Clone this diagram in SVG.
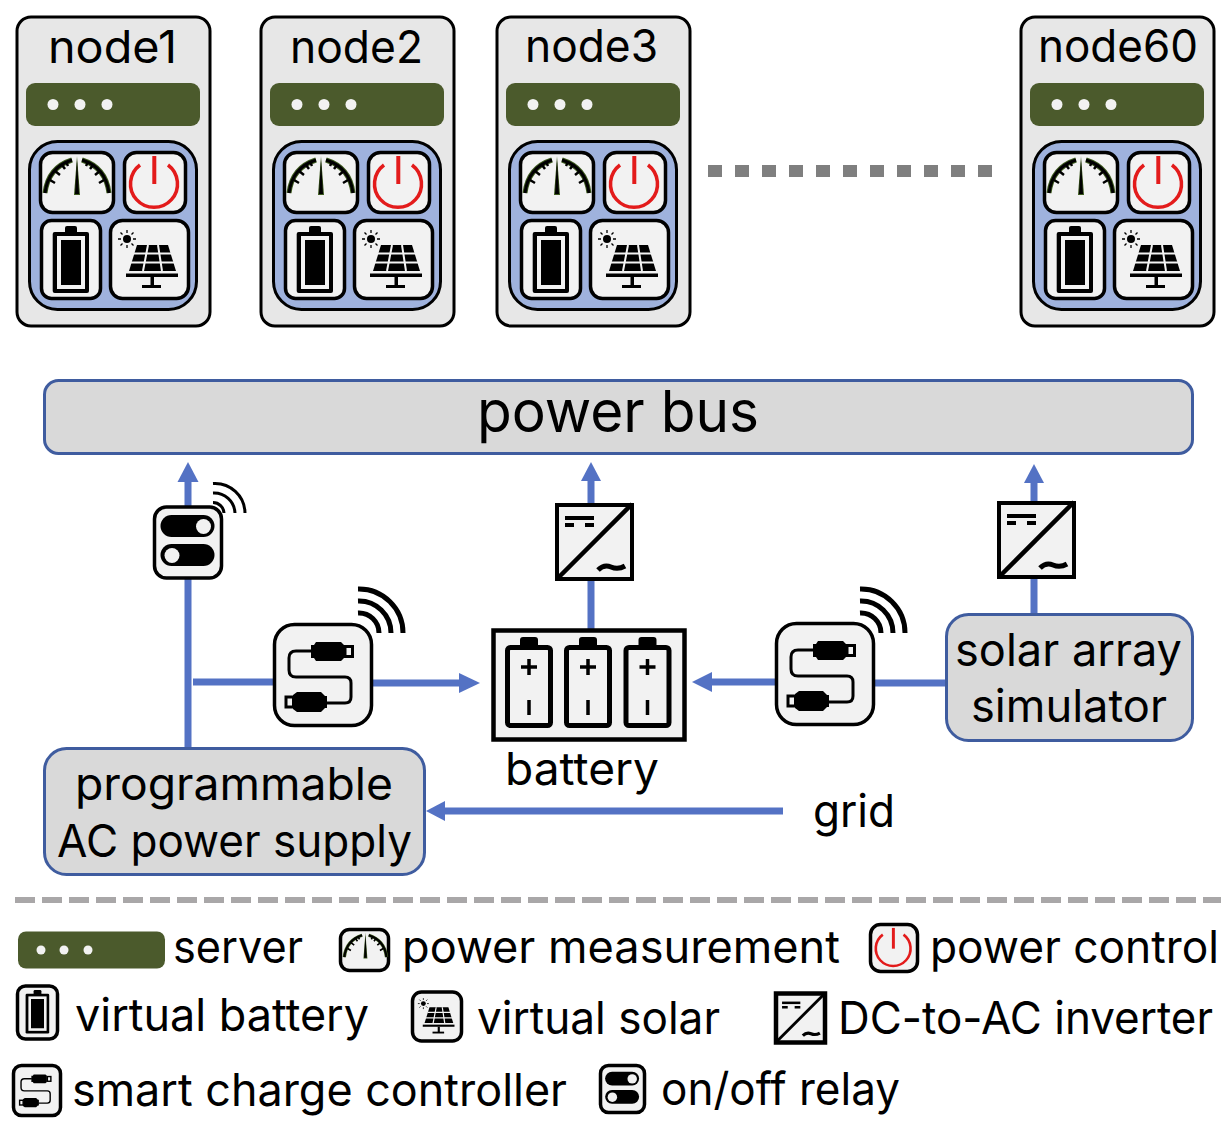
<svg xmlns="http://www.w3.org/2000/svg" width="1228" height="1128" viewBox="0 0 1228 1128">
<style>
text{font-family:"Inter","Liberation Sans",sans-serif;font-size:45px;fill:#000;}
.tile{fill:#f2f2f2;stroke:#000;stroke-width:3.5;}
.k{fill:#000;stroke:none;}
.w{fill:#f2f2f2;stroke:none;}
.ln{fill:none;}
.conn{fill:none;stroke:#5472c4;stroke-width:7;}
.ah{fill:#5472c4;stroke:none;}
.box{fill:#d9d9d9;stroke:#3f5c9f;stroke-width:3;}
.srv{fill:#4b5a2c;}
.dot{fill:#f2f2f2;}
</style>
<defs>
<g id="gauge">
<path class="ln" d="M45 193C47 177 56 165 72 160" stroke="#3d5a1e" stroke-width="5"/>
<path class="ln" d="M82 160C98 165 107 177 109 193" stroke="#3d5a1e" stroke-width="5"/>
<path class="ln" d="M45 193C47 177 56 165 72 160" stroke="#000" stroke-width="3"/>
<path class="ln" d="M82 160C98 165 107 177 109 193" stroke="#000" stroke-width="3"/>
<path class="ln" d="M50 180l5 3M55 171l5 4M62 165l3 4M66 162l2 4M88 162l-2 4M93 165l-3 4M100 171l-5 4M104 180l-5 3" stroke="#000" stroke-width="2.500"/>
<path d="M77 156L80 195H74Z" fill="#3d5a1e"/>
<path class="k" d="M77 160L79 194H75Z"/>
</g>
<g id="power">
<path class="ln" d="M140 165A23.500 23.500 0 1 0 168 165" stroke="#e31b1b" stroke-width="3.500"/>
<path class="ln" d="M154.300 156V184" stroke="#e31b1b" stroke-width="4"/>
</g>
<g id="batt">
<rect class="k" x="65" y="226" width="12" height="8" rx="2"/>
<rect class="k" x="52.700" y="232" width="36.300" height="61" rx="2"/>
<rect class="w" x="57" y="236" width="28" height="53"/>
<rect class="k" x="61" y="240" width="20" height="45"/>
</g>
<g id="solar">
<circle class="k" cx="127" cy="239" r="4"/>
<path class="ln" d="M127 230v3M127 245v3M118 239h3M133 239h3M120.500 232.500l2 2M131.500 243.500l2 2M120.500 245.500l2-2M131.500 234.500l2-2" stroke="#000" stroke-width="1.300"/>
<path class="k" d="M137 245H168L176 271H129Z"/>
<path class="ln" d="M134 253.500H171M131 262.500H174M148 245L143 271M158 245L162 271" stroke="#f2f2f2" stroke-width="2"/>
<rect class="k" x="126" y="273.500" width="52" height="3.500"/>
<rect class="k" x="150.500" y="277" width="3.500" height="9"/>
<rect class="k" x="142" y="285" width="19" height="3"/>
</g>
<g id="relayI">
<rect class="k" x="160.500" y="515" width="54" height="22" rx="11"/>
<circle class="dot" cx="203.500" cy="526.500" r="7.500"/>
<rect class="k" x="160.500" y="544" width="54" height="22" rx="11"/>
<circle class="dot" cx="172" cy="555.500" r="7.500"/>
</g>
<g id="usb">
<path class="ln" d="M312 651H296Q289 651 289 658V670Q289 677 296 677H345Q351 677 351 683V697Q351 703 345 703H326" stroke="#000" stroke-width="3"/>
<path class="k" d="M311 645H314L316 642H341L344 645V658L341 661H316L314 658H311Z"/>
<rect x="345" y="646.500" width="7.500" height="10" fill="#f2f2f2" stroke="#000" stroke-width="3"/>
<path class="k" d="M293 695L297 692H321L325 696H327V708H325L321 712H297L293 709Z"/>
<rect x="286" y="697" width="7.500" height="10" fill="#f2f2f2" stroke="#000" stroke-width="3"/>
</g>
<g id="inv">
<path class="ln" d="M557 579L632 504" stroke="#000" stroke-width="4.500"/>
<rect class="k" x="565" y="516" width="29" height="4"/>
<rect class="k" x="565" y="523" width="9" height="4"/>
<rect class="k" x="585" y="523" width="9" height="4"/>
<path class="ln" d="M598 570Q604 564 611 567T625 566" stroke="#000" stroke-width="5"/>
</g>
<g id="wifiL" stroke="#000" stroke-width="5" fill="none">
<path d="M358 589A44 44 0 0 1 403 633"/>
<path d="M358 601A32 32 0 0 1 391 633"/>
<path d="M358 613A20 20 0 0 1 379 633"/>
</g>
<g id="cell">
<rect class="k" x="520" y="637" width="18" height="11" rx="3"/>
<rect x="507.500" y="647.500" width="43" height="78" rx="3" fill="#f2f2f2" stroke="#000" stroke-width="5"/>
<path class="ln" d="M521 667H537M529 659V675M529 700V715" stroke="#000" stroke-width="3.500"/>
</g>
<g id="body">
<rect x="17" y="17" width="193" height="309" rx="14" fill="#e7e7e7" stroke="#000" stroke-width="3"/>
<rect class="srv" x="26" y="83" width="174" height="43" rx="9"/>
<circle class="dot" cx="53" cy="104.500" r="5.500"/><circle class="dot" cx="80" cy="104.500" r="5.500"/><circle class="dot" cx="107" cy="104.500" r="5.500"/>
<rect x="29.500" y="141.500" width="167" height="168" rx="28" fill="#9fb2dd" stroke="#000" stroke-width="3"/>
<rect class="tile" x="40.500" y="152.500" width="73" height="60" rx="12"/>
<use href="#gauge"/>
<rect class="tile" x="124.500" y="152.500" width="61" height="60" rx="12"/>
<use href="#power"/>
<rect class="tile" x="41.500" y="220.500" width="59" height="78" rx="10"/>
<use href="#batt"/>
<rect class="tile" x="110.500" y="220.500" width="78" height="78" rx="12"/>
<use href="#solar"/>
</g>
</defs>
<rect width="1228" height="1128" fill="#fff"/>

<g id="connectors">
<path class="conn" d="M188 747V478"/><path class="ah" d="M188 462L198.500 482H177.500Z"/>
<path class="conn" d="M193 682H274"/>
<path class="conn" d="M372 683H462"/><path class="ah" d="M480 683L459 673V693Z"/>
<path class="conn" d="M591 630V478"/><path class="ah" d="M591 462L601 481H581Z"/>
<path class="conn" d="M1034 613V480"/><path class="ah" d="M1034 464L1044 483H1024Z"/>
<path class="conn" d="M775 682H708"/><path class="ah" d="M692 682L712 672V692Z"/>
<path class="conn" d="M875 683H946"/>
<path class="conn" d="M783 811H442"/><path class="ah" d="M426 811L445 801V821Z"/>
</g>

<g id="node1"><use href="#body"/><text x="48" y="63" textLength="129" lengthAdjust="spacingAndGlyphs">node1</text></g>
<g id="node2"><use href="#body" transform="translate(244 0)"/><text x="290" y="63" textLength="133" lengthAdjust="spacingAndGlyphs">node2</text></g>
<g id="node3"><use href="#body" transform="translate(480 0)"/><text x="525" y="62" textLength="133" lengthAdjust="spacingAndGlyphs">node3</text></g>
<g id="node60"><use href="#body" transform="translate(1004 0)"/><text x="1038" y="62" textLength="160" lengthAdjust="spacingAndGlyphs">node60</text></g>
<path id="ellipsis" d="M708 171H994" fill="none" stroke="#7f7f7f" stroke-width="12" stroke-dasharray="14 13"/>

<g id="power-bus"><rect class="box" x="44.500" y="380.500" width="1148" height="73" rx="14"/><text x="477" y="432" style="font-size:58px" textLength="282" lengthAdjust="spacingAndGlyphs">power bus</text></g>

<g id="relay">
<rect class="tile" x="154.500" y="507" width="67" height="71" rx="12"/>
<use href="#relayI"/>
<g fill="none" stroke="#000" stroke-width="3"><path d="M213 483.500A30 30 0 0 1 245 513"/><path d="M213 493A21 21 0 0 1 235 513"/><path d="M213 502.500A11 11 0 0 1 224 513"/></g>
</g>

<g id="charger1">
<use href="#wifiL"/>
<rect class="tile" x="274.500" y="624.500" width="97" height="101" rx="20"/>
<use href="#usb"/>
</g>
<g id="charger2" transform="translate(502 -1)">
<use href="#wifiL" transform="translate(0 1)"/>
<rect class="tile" x="274.500" y="624.500" width="97" height="101" rx="20"/>
<use href="#usb"/>
</g>

<g id="inverter1">
<rect x="557" y="505" width="75" height="74" fill="#f2f2f2" stroke="#000" stroke-width="4"/>
<use href="#inv"/>
</g>
<g id="inverter2" transform="translate(442 -2)">
<rect x="557" y="505" width="75" height="74" fill="#f2f2f2" stroke="#000" stroke-width="4"/>
<use href="#inv"/>
</g>

<g id="battery">
<rect x="493.500" y="630.500" width="191" height="109" fill="#f2f2f2" stroke="#000" stroke-width="4.500"/>
<use href="#cell"/><use href="#cell" transform="translate(59 0)"/><use href="#cell" transform="translate(118.500 0)"/>
<text x="505" y="785" textLength="154" lengthAdjust="spacingAndGlyphs">battery</text>
</g>

<g id="grid"><text x="813" y="827" textLength="82" lengthAdjust="spacingAndGlyphs">grid</text></g>

<g id="solar-sim">
<rect class="box" x="946.500" y="614.500" width="246" height="126" rx="22"/>
<text x="955" y="666" textLength="227" lengthAdjust="spacingAndGlyphs">solar array</text>
<text x="971" y="722" textLength="196" lengthAdjust="spacingAndGlyphs">simulator</text>
</g>

<g id="ac-supply">
<rect class="box" x="44.500" y="748.500" width="380" height="126" rx="22"/>
<text x="75" y="800" textLength="318" lengthAdjust="spacingAndGlyphs">programmable</text>
<text x="57" y="857" textLength="355" lengthAdjust="spacingAndGlyphs">AC power supply</text>
</g>

<path id="divider" d="M15 900H1221" fill="none" stroke="#a9a7a8" stroke-width="6" stroke-dasharray="20 7"/>

<g id="legend">
<rect class="srv" x="18" y="931.500" width="147" height="37" rx="8"/>
<circle class="dot" cx="41" cy="950" r="4.500"/><circle class="dot" cx="64" cy="950" r="4.500"/><circle class="dot" cx="88" cy="950" r="4.500"/>
<text x="173" y="963" textLength="130" lengthAdjust="spacingAndGlyphs">server</text>

<rect class="tile" x="340.500" y="929.500" width="48" height="41" rx="9"/>
<use href="#gauge" transform="translate(314.600 829.700) scale(.66)"/>
<text x="402" y="963" textLength="438" lengthAdjust="spacingAndGlyphs">power measurement</text>

<rect class="tile" x="870.500" y="924.500" width="47" height="47" rx="10"/>
<use href="#power" transform="translate(779.200 812.500) scale(.74)"/>
<text x="930" y="963" textLength="289" lengthAdjust="spacingAndGlyphs">power control</text>

<rect class="tile" x="17.500" y="986" width="40" height="53" rx="8"/>
<use href="#batt" transform="translate(-8.650 843) scale(.65)"/>
<text x="75" y="1031" textLength="294" lengthAdjust="spacingAndGlyphs">virtual battery</text>

<rect class="tile" x="412.500" y="992" width="49" height="49" rx="9"/>
<use href="#solar" transform="translate(345.900 857.800) scale(.61)"/>
<text x="477" y="1034" textLength="243" lengthAdjust="spacingAndGlyphs">virtual solar</text>

<rect x="776" y="993.500" width="49" height="49" fill="#f2f2f2" stroke="#000" stroke-width="4.500"/>
<use href="#inv" transform="translate(426.100 676.500) scale(.63)"/>
<text x="838" y="1034" textLength="375" lengthAdjust="spacingAndGlyphs">DC-to-AC inverter</text>

<rect class="tile" x="13.500" y="1065.500" width="47" height="50" rx="8"/>
<use href="#usb" transform="translate(-114.800 772.700) scale(.47)"/>
<text x="72" y="1106" textLength="495" lengthAdjust="spacingAndGlyphs">smart charge controller</text>

<rect class="tile" x="600.500" y="1065.500" width="44" height="47" rx="8"/>
<use href="#relayI" transform="translate(504 747.200) scale(.63)"/>
<text x="661" y="1105" textLength="239" lengthAdjust="spacingAndGlyphs">on/off relay</text>
</g>
</svg>
